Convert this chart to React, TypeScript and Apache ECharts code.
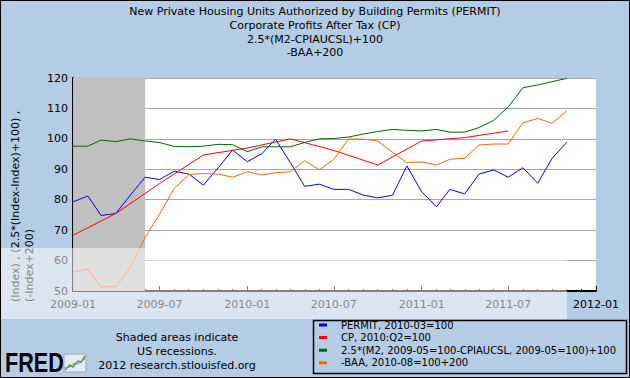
import React, { useEffect, useRef } from "react";
import * as echarts from "echarts";

const months = [
  "2009-01", "2009-02", "2009-03", "2009-04", "2009-05", "2009-06", "2009-07", "2009-08", "2009-09", "2009-10", "2009-11", "2009-12",
  "2010-01", "2010-02", "2010-03", "2010-04", "2010-05", "2010-06", "2010-07", "2010-08", "2010-09", "2010-10", "2010-11", "2010-12",
  "2011-01", "2011-02", "2011-03", "2011-04", "2011-05", "2011-06", "2011-07", "2011-08", "2011-09", "2011-10", "2011-11",
];
const permit = [
  79.3, 81.2, 74.8, 75.5, 81.5, 87.4, 86.6, 89.4, 88.4, 84.8, 90.5, 96.3,
  92.5, 95.2, 99.9, 92.2, 84.4, 85.1, 83.4, 83.4, 81.5, 80.6, 81.5, 91.1,
  82.6, 77.7, 83.4, 81.9, 88.4, 89.8, 87.4, 90.5, 85.4, 93.6, 98.9,
];
const m2Real = [
  97.6, 97.6, 99.6, 99.1, 100.0, 99.3, 98.8, 97.5, 97.4, 97.6, 98.2, 98.1,
  95.8, 97.4, 97.4, 97.4, 98.8, 100.0, 100.1, 100.6, 101.6, 102.4, 103.1, 102.8,
  102.6, 103.1, 102.2, 102.2, 103.7, 106.1, 110.4, 116.8, 117.7, 118.8, 119.9,
];
const baa = [
  56.3, 57.1, 51.3, 51.5, 57.7, 67.6, 75.2, 83.7, 88.3, 88.6, 88.4, 87.4,
  89.2, 88.1, 88.9, 89.2, 92.8, 89.8, 93.3, 100.0, 99.9, 99.3, 95.6, 92.2,
  92.4, 91.4, 93.3, 93.6, 98.0, 98.3, 98.3, 105.3, 106.7, 105.1, 109.2,
];
const cpQuarters = ["2009-01", "2009-04", "2009-07", "2009-10", "2010-01", "2010-04", "2010-07", "2010-10", "2011-01", "2011-04", "2011-07"];
const cp = [68.3, 75.5, 85.3, 94.7, 97.0, 100.0, 96.2, 91.4, 99.3, 100.4, 102.6];

const seriesNames = [
  "PERMIT, 2010-03=100",
  "CP, 2010:Q2=100",
  "2.5*(M2, 2009-05=100-CPIAUCSL, 2009-05=100)+100",
  "-BAA, 2010-08=100+200",
];
const seriesColors = ["#0000FF", "#FF0000", "#006400", "#FF6600"];
const titleLines = [
  "New Private Housing Units Authorized by Building Permits (PERMIT)",
  "Corporate Profits After Tax (CP)",
  "2.5*(M2-CPIAUCSL)+100",
  "-BAA+200",
];
const yAxisNameLines = ["(Index) , (2.5*(Index-Index)+100) ,", "(-Index+200)"];
const recession = ["2009-01", "2009-06"];
const xRange = ["2009-01", "2012-01"];
const yTicks = { min: 50, max: 120, interval: 10 };

const toUTC = (m: string) => {
  const [y, mo] = m.split("-").map(Number);
  return Date.UTC(y, mo - 1, 1);
};

const FONT = "DejaVu Sans";

export default function App() {
  const ref = useRef<HTMLDivElement>(null);
  useEffect(() => {
    if (!ref.current) return;
    const chart = echarts.init(ref.current, null, { renderer: "svg" });
    const pair = (dates: string[], vals: number[]) => dates.map((d, i) => [toUTC(d), vals[i]]);
    const day = 86400000;
    const option: any = {
      animation: false,
      useUTC: true,
      backgroundColor: "#B4CCE4",
      title: {
        text: titleLines.join("\n"),
        left: "center",
        top: 5,
        padding: 0,
        textStyle: { fontFamily: FONT, fontSize: 11, fontWeight: "normal", color: "#000", lineHeight: 13.7 },
      },
      grid: { left: 73, right: 34, top: 78, bottom: 87, show: true, backgroundColor: "#FFFFFF", borderWidth: 0 },
      legend: {
        orient: "vertical",
        left: 319,
        top: 318.7,
        padding: 0,
        itemGap: 0,
        itemWidth: 8,
        itemHeight: 3,
        icon: "rect",
        selectedMode: false,
        data: seriesNames,
        textStyle: { fontFamily: FONT, fontSize: 10, color: "#000", lineHeight: 12.6, padding: [0, 0, 0, 9] },
      },
      xAxis: {
        type: "time",
        min: toUTC(xRange[0]),
        max: toUTC(xRange[1]),
        splitNumber: 6,
        minInterval: 180 * day,
        maxInterval: 185 * day,
        axisLine: { lineStyle: { color: "#000", width: 2 } },
        axisTick: { inside: true, length: 5, lineStyle: { color: "#000" } },
        minorTick: { show: true, splitNumber: 6, length: 2, lineStyle: { color: "#000" } },
        splitLine: { show: false },
        axisLabel: {
          fontFamily: FONT,
          fontSize: 11,
          color: "#000",
          margin: 8,
          hideOverlap: false,
          showMinLabel: true,
          showMaxLabel: true,
          formatter: (v: number) => {
            const d = new Date(v);
            return `${d.getUTCFullYear()}-${String(d.getUTCMonth() + 1).padStart(2, "0")}`;
          },
        },
      },
      yAxis: {
        type: "value",
        min: yTicks.min,
        max: yTicks.max,
        interval: yTicks.interval,
        axisLine: { show: true, lineStyle: { color: "#000", width: 2 } },
        axisTick: { show: true, inside: true, length: 4, lineStyle: { color: "#000" } },
        splitLine: { show: true, lineStyle: { color: "#A8A8A8", width: 1 } },
        axisLabel: { fontFamily: FONT, fontSize: 11, color: "#000", margin: 5 },
      },
      series: [
        {
          name: seriesNames[0],
          type: "line",
          data: pair(months, permit),
          showSymbol: false,
          color: seriesColors[0],
          lineStyle: { width: 1, color: seriesColors[0] },
          markArea: {
            silent: true,
            itemStyle: { color: "#C0C0C0", opacity: 1 },
            data: [[{ xAxis: toUTC(recession[0]) }, { xAxis: toUTC(recession[1]) }]],
          },
        },
        {
          name: seriesNames[1],
          type: "line",
          data: pair(cpQuarters, cp),
          showSymbol: false,
          color: seriesColors[1],
          lineStyle: { width: 1, color: seriesColors[1] },
        },
        {
          name: seriesNames[2],
          type: "line",
          data: pair(months, m2Real),
          showSymbol: false,
          color: seriesColors[2],
          lineStyle: { width: 1, color: seriesColors[2] },
        },
        {
          name: seriesNames[3],
          type: "line",
          data: pair(months, baa),
          showSymbol: false,
          color: seriesColors[3],
          lineStyle: { width: 1, color: seriesColors[3] },
        },
      ],
      graphic: [
        {
          type: "text",
          x: 8,
          y: 302,
          rotation: Math.PI / 2,
          style: {
            text: yAxisNameLines.join("\n"),
            fontFamily: FONT,
            fontSize: 11,
            lineHeight: 14,
            fill: "#000",
            textAlign: "left",
            textVerticalAlign: "top",
          },
        },
        {
          type: "text",
          x: 177,
          y: 330,
          style: {
            text: "Shaded areas indicate\nUS recessions.\n2012 research.stlouisfed.org",
            fontFamily: FONT,
            fontSize: 11,
            lineHeight: 14,
            fill: "#000",
            textAlign: "center",
            textVerticalAlign: "top",
          },
        },
        {
          type: "text",
          x: 5,
          y: 363,
          scaleX: 0.8,
          style: {
            text: "FRED",
            fontFamily: "Liberation Sans",
            fontWeight: "bold",
            fontSize: 27,
            fill: "#000",
            textAlign: "left",
            textVerticalAlign: "middle",
          },
        },
        {
          type: "rect",
          shape: { x: 64, y: 354, width: 22, height: 18 },
          style: { fill: "#E4ECF2", stroke: "#9AA8B4", lineWidth: 1 },
        },
        {
          type: "polyline",
          shape: { points: [[65, 370], [70, 365], [73, 367], [78, 361], [81, 362], [85, 356]] },
          style: { stroke: "#5A9A3C", lineWidth: 1.5, fill: "none" },
        },
        {
          type: "polyline",
          shape: { points: [[65, 368], [70, 367], [74, 363], [78, 364], [85, 359]] },
          style: { stroke: "#6C8CC0", lineWidth: 1, fill: "none" },
        },
        {
          type: "rect",
          shape: { x: 313.5, y: 320.5, width: 313, height: 53 },
          style: { fill: "none", stroke: "#000", lineWidth: 1.5 },
        },
        {
          type: "rect",
          z: 100,
          silent: true,
          shape: { x: 0, y: 248, width: 567, height: 71 },
          style: { fill: "rgba(255,255,255,0.5)" },
        },
        {
          type: "rect",
          z: 101,
          silent: true,
          shape: { x: 0, y: 0, width: 630, height: 378 },
          style: { fill: "none", stroke: "#000", lineWidth: 2 },
        },
      ],
    };
    chart.setOption(option);
    return () => chart.dispose();
  }, []);
  return <div ref={ref} style={{ position: "absolute", left: 0, top: 0, width: 630, height: 378 }} />;
}
